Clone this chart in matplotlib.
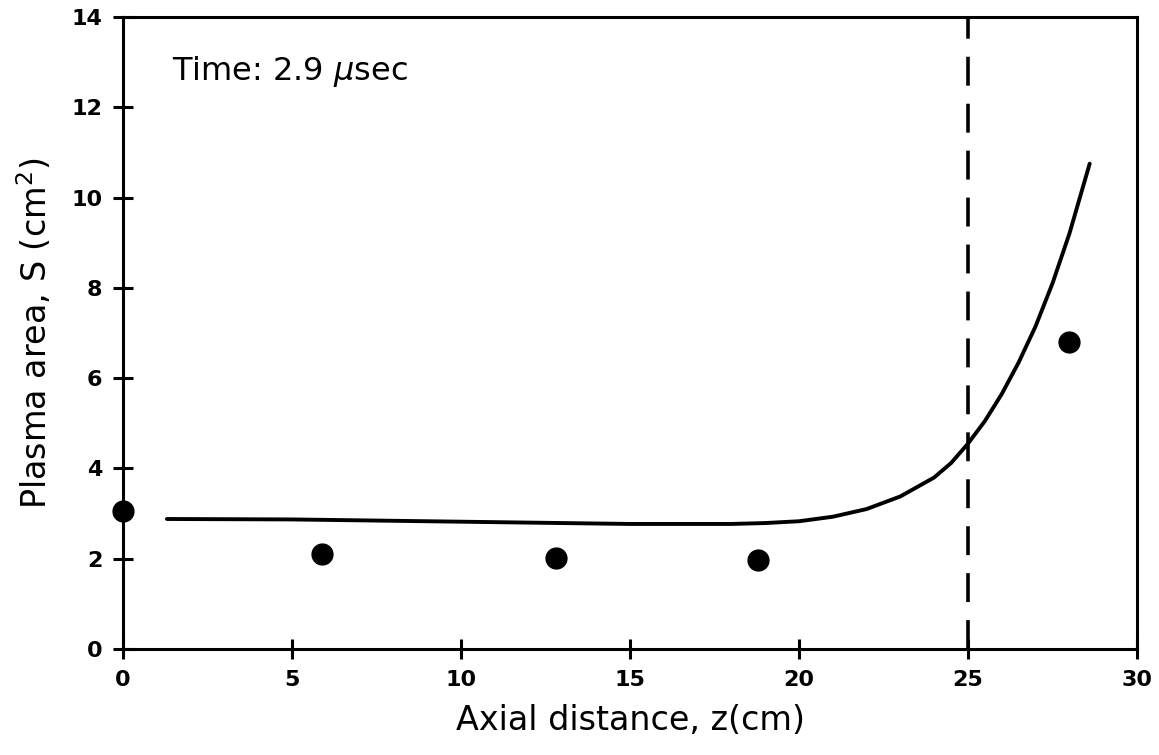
import numpy as np
import matplotlib.pyplot as plt

# measured points (filled circles)
z_meas = [0.0, 5.9, 12.8, 18.8, 28.0]
s_meas = [3.05, 2.1, 2.02, 1.98, 6.8]

# model curve
z_curve = [1.3, 5, 10, 15, 18, 19, 20, 21, 22, 23, 24, 24.5, 25, 25.5, 26, 26.5, 27, 27.5, 28, 28.6]
s_curve = [2.88, 2.87, 2.82, 2.77, 2.77, 2.79, 2.83, 2.93, 3.1, 3.38, 3.8, 4.12, 4.55, 5.05, 5.65, 6.35, 7.15, 8.1, 9.2, 10.75]

x_ticks = [0, 5, 10, 15, 20, 25, 30]
y_ticks = [0, 2, 4, 6, 8, 10, 12, 14]
z_marker = 25

fig = plt.figure(figsize=(11.59, 7.55), dpi=100)
ax = fig.add_axes([123 / 1159, 1 - 649 / 755, (1137 - 123) / 1159, (649 - 17) / 755])

ax.plot(z_curve, s_curve, color='black', lw=2.8, solid_capstyle='round', solid_joinstyle='round')
ax.plot(z_meas, s_meas, 'o', color='black', ms=15, clip_on=False, zorder=5)
ax.axvline(z_marker, color='black', lw=2.6, dashes=(8, 5))

ax.set_xlim(0, 30)
ax.set_ylim(0, 14)
ax.set_xticks(x_ticks)
ax.set_yticks(y_ticks)
for sp in ax.spines.values():
    sp.set_linewidth(2.2)
ax.tick_params(direction='inout', length=14, width=2.2, labelsize=16, pad=8)
for lab in ax.get_xticklabels() + ax.get_yticklabels():
    lab.set_fontweight('bold')

ax.text(1.45, 12.8, r'Time: 2.9 $\mu$sec', fontsize=23, va='center', ha='left')
ax.set_xlabel('Axial distance, z(cm)', fontsize=24, labelpad=10)
ax.set_ylabel(r'Plasma area, S (cm$^2$)', fontsize=24, labelpad=12)

fig.savefig('out.png', dpi=100)
